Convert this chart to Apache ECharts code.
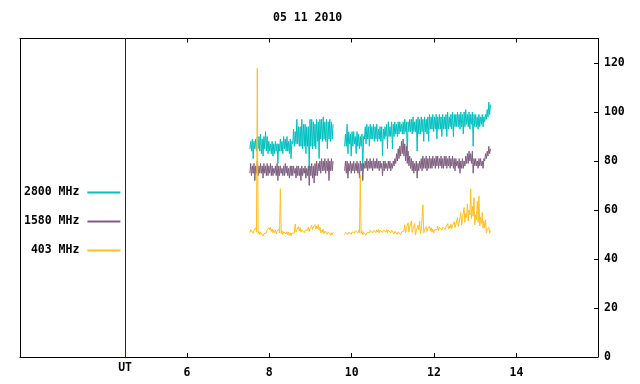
<!DOCTYPE html>
<html><head><meta charset="utf-8">
<script src="https://cdn.jsdelivr.net/npm/echarts@6/dist/echarts.min.js"></script>
<style>html,body{margin:0;padding:0;background:#fff}#c{width:640px;height:384px}</style>
</head><body><div id="c"></div>
<script>
const titleText = '05 11 2010';
const seriesNames = ['2800 MHz', '1580 MHz', '403 MHz'];
const xTickValues = [6, 8, 10, 12, 14];
const yTickValues = [0, 20, 40, 60, 80, 100, 120];
const utMark = 4.5;
const utLabel = 'UT';
// sampling grid of the two observing segments (hours UT)
const seg1Start = 7.53, seg2Start = 9.83, sampleStep = 0.04, gapTime = 9.68;

// per-sample low / high envelope (sfu)
const teal1Lo = [85,84,81,85,84,85,84,83,82,85,84,83,84,83,82,83,84,79,84,84,83,85,84,84,83,81,
  87,86,87,87,86,86,85,86,83,86,76,86,85,86,85,88,81,89,88,89,88,85,89,88,89];
const teal1Hi = [88,89,88,89,90,90,91,89,90,92,90,88,87,88,87,88,87,87,89,88,90,89,90,88,89,88,
  93,92,97,94,94,97,95,95,94,94,97,97,96,95,97,96,97,97,98,96,97,96,97,96,95];
const teal2Lo = [86,86,83,87,82,86,87,83,86,85,86,76,89,87,89,86,89,89,88,89,88,89,88,82,89,
  90,85,90,90,85,90,91,90,91,92,91,91,92,82,92,92,91,92,92,84,91,91,92,88,92,91,88,93,
  93,92,93,89,93,93,90,93,93,90,93,94,93,90,94,94,94,93,94,91,94,95,94,93,95,86,
  94,94,93,94,95,94,96,97,98,99];
const teal2Hi = [91,95,92,91,92,92,90,92,91,90,91,90,94,95,94,95,94,95,94,95,93,94,94,93,94,
  95,96,94,96,95,96,95,96,96,95,96,97,96,96,97,97,98,96,97,98,97,98,97,98,97,98,99,98,
  99,98,99,98,99,98,99,98,99,100,98,99,100,99,99,100,99,100,99,100,101,99,100,99,100,99,
  99,98,99,98,99,98,99,101,104,103];
const purple1Lo = [75,74,75,72,75,74,75,75,73,75,74,74,75,74,74,75,74,72,74,75,74,74,75,74,73,74,
  74,75,73,74,74,72,74,75,73,74,70,74,73,71,74,74,76,75,76,76,75,76,72,76,76];
const purple1Hi = [79,78,79,78,80,78,79,78,79,78,79,78,79,78,77,78,79,78,78,77,78,79,78,77,78,78,
  78,77,78,78,77,78,77,78,77,78,78,79,78,79,80,79,80,81,80,81,80,81,80,81,80];
const purple2Lo = [76,75,73,76,75,76,75,76,75,73,76,72,77,77,76,77,77,76,77,77,77,76,77,74,76,
  77,76,77,76,77,78,79,80,81,82,83,82,80,79,78,77,76,75,76,73,76,77,76,77,77,76,77,77,
  77,78,77,78,77,78,77,77,78,77,78,77,78,77,76,78,77,75,77,77,78,79,79,80,79,75,
  78,78,77,78,78,77,80,81,82,83];
const purple2Hi = [80,80,79,80,79,80,79,80,79,80,79,79,80,81,80,81,80,81,80,81,80,80,79,80,80,
  79,80,80,79,80,81,83,85,86,88,89,87,86,84,82,81,80,79,80,79,80,81,82,81,82,81,82,81,
  82,81,82,82,81,82,81,82,82,81,82,81,82,81,81,80,81,80,81,80,82,83,84,83,84,81,
  81,80,81,81,80,81,83,84,86,85];
const yellow1Lo = [50.8,51.2,50.5,51,51,50.4,49.9,50.1,49.4,49.8,50.6,51.5,51.8,51.2,50.7,50.8,50.3,
  50.8,50.6,50.4,50,50.6,50.2,49.9,49.6,49.5,49.8,50.6,51,51.9,51.5,50.9,51.1,50.7,51,51.7,51.2,
  51.8,51.9,52.3,52.1,52.4,51.8,50.7,50.9,50.3,50.6,50.1,50.3,49.7,49.8];
const yellow1Hi = [51.9,52.4,51.6,52.8,117.8,51.3,50.9,51.2,50.3,50.9,51.9,52.8,53,52.3,51.7,51.9,51.3,
  52.2,68.7,51.5,51.1,51.8,51.2,51,50.7,50.5,51,54.3,52,53.2,52.8,51.9,52.4,51.7,52.1,53,52.4,
  53.8,53.1,54,53.4,54.1,53,51.8,52.2,51.4,51.7,51.1,51.4,50.7,50.9];
const yellow2Lo = [49.9,50.2,50,50.4,50.1,50.6,50.5,50.8,50.6,50.7,50.4,49.9,50.1,49.8,50.2,50.6,51,
  50.6,51.1,50.8,51,50.6,51.2,50.8,51.4,51,50.7,51.2,50.6,51,50.2,50.6,50,50.3,49.9,50.2,51.5,
  50.8,51.9,50.9,52,50.8,51.6,49.8,51.4,51.8,50.4,51,50.6,51.6,51.2,52,51.5,51,50.6,51.3,52,51.6,
  52.2,51.8,52.4,52,52.8,52.2,52.6,52.4,53.2,52.8,54,53.3,55,53.8,56.5,55,57,55.5,58,56.5,57.5,54,
  56,55,53.5,54.5,52.5,52.8,50.6,51.4,50.5];
const yellow2Hi = [50.9,51.3,51,51.5,51.1,51.7,51.5,51.9,51.7,74.4,51.5,50.9,51.2,50.8,51.3,51.7,52.1,
  51.7,52.3,51.9,52.1,51.7,52.3,51.9,52.5,52.1,51.8,52.3,51.7,52.1,51.3,51.7,51.1,51.4,51,51.8,54,
  52.5,54.8,52.8,55.5,52.3,54.5,51.5,53.8,55.5,51.8,62.1,52,53.2,52.5,53.4,52.8,52.2,51.9,52.6,53.4,
  52.8,53.6,53,53.8,53.2,54.4,53.5,54.2,53.6,55.2,54.2,57,55,59,56.5,61,58.5,62.5,60,68.6,61.5,65,58,
  63.5,65.7,57,59,55.5,56,52,53,51.6];

const colors = ['#00c0c0', '#7f5f80', '#ffc020'];
const FONT = 'DejaVu Sans Mono';

// each sample drawn as its low value then its high value half a step later
function segment(start, lo, hi) {
  const out = [];
  lo.forEach((v, i) => {
    const t = start + i * sampleStep;
    out.push([+t.toFixed(3), v]);
    out.push([+(t + sampleStep / 2).toFixed(3), hi[i]]);
  });
  return out;
}
function build(lo1, hi1, lo2, hi2) {
  return segment(seg1Start, lo1, hi1).concat([[gapTime, null]], segment(seg2Start, lo2, hi2));
}
const allData = [
  build(teal1Lo, teal1Hi, teal2Lo, teal2Hi),
  build(purple1Lo, purple1Hi, purple2Lo, purple2Hi),
  build(yellow1Lo, yellow1Hi, yellow2Lo, yellow2Hi)
];

const textBase = { color: '#000', fontFamily: FONT, fontWeight: 'bold', fontSize: 11.5 };

const chart = echarts.init(document.getElementById('c'), null, { renderer: 'canvas' });
const xBase = {
  type: 'value', min: 1.95, max: 15.98,
  axisLine: { show: true, onZero: false, lineStyle: { color: '#000', width: 1 } },
  axisTick: { show: true, inside: true, length: 4, customValues: xTickValues, lineStyle: { color: '#000' } },
  splitLine: { show: false }
};
chart.setOption({
  animation: false,
  backgroundColor: '#fff',
  title: { text: titleText, left: 273, top: 12, padding: 0, textStyle: textBase },
  grid: { left: 20, right: 42, top: 38.5, bottom: 27 },
  legend: {
    orient: 'vertical', align: 'right', left: 24, top: 186.5, padding: 0,
    itemWidth: 33, itemHeight: 14, itemGap: 17,
    formatter: n => n.padStart(8, ' '),
    itemStyle: { opacity: 0, borderWidth: 0 },
    textStyle: Object.assign({}, textBase, { padding: [0, 3, 0, 0] }),
    data: seriesNames
  },
  xAxis: [
    Object.assign({}, xBase, {
      position: 'bottom',
      axisLabel: { show: true, customValues: xTickValues, margin: 10, ...textBase }
    }),
    Object.assign({}, xBase, { position: 'top', axisLabel: { show: false } })
  ],
  yAxis: [
    { type: 'value', min: 0, max: 130, position: 'left',
      axisLine: { show: true, onZero: false, lineStyle: { color: '#000', width: 1 } },
      axisTick: { show: false }, axisLabel: { show: false }, splitLine: { show: false } },
    { type: 'value', min: 0, max: 130, position: 'right',
      axisLine: { show: true, onZero: false, lineStyle: { color: '#000', width: 1 } },
      axisTick: { show: true, inside: true, length: 4, customValues: yTickValues, lineStyle: { color: '#000' } },
      axisLabel: { show: true, customValues: yTickValues, margin: 6, ...textBase },
      splitLine: { show: false } }
  ],
  series: seriesNames.map((name, k) => ({
    name, type: 'line', xAxisIndex: 0, yAxisIndex: 1,
    data: allData[k], showSymbol: false, symbol: 'none', sampling: null,
    connectNulls: false, clip: true,
    color: colors[k],
    lineStyle: { color: colors[k], width: 1 },
    emphasis: { disabled: true },
    markLine: k === 0 ? {
      silent: true, symbol: 'none', animation: false,
      lineStyle: { color: '#7f0000', type: 'solid', width: 1 },
      label: { show: true, position: 'start', formatter: utLabel, distance: 5, ...textBase },
      data: [{ xAxis: utMark }]
    } : undefined
  }))
});
</script></body></html>
